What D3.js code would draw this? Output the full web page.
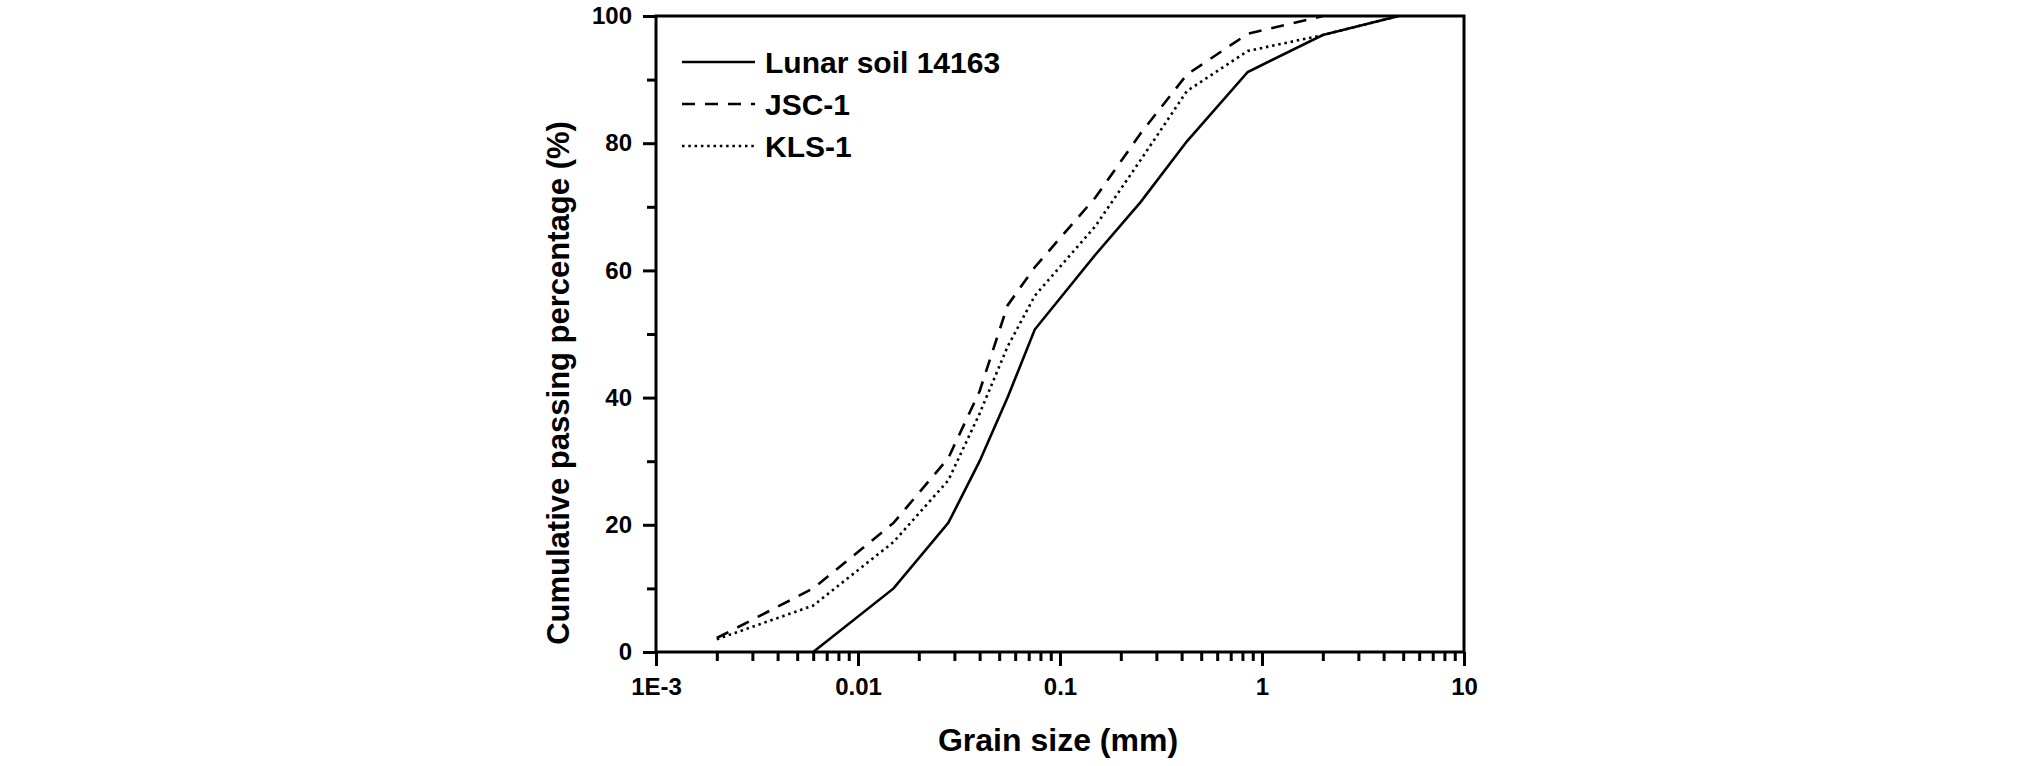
<!DOCTYPE html>
<html>
<head>
<meta charset="utf-8">
<script src="https://cdn.jsdelivr.net/npm/d3@7"></script>
<style>
  html, body { margin: 0; padding: 0; background: #fff; }
  svg { display: block; }
  text { font-family: "Liberation Sans", Arial, sans-serif; font-weight: bold; fill: #000; }
</style>
</head>
<body>
<svg id="chart" width="2020" height="766"></svg>
<script>
// ---- data ----
const seriesNames = ["Lunar soil 14163", "JSC-1", "KLS-1"];
const lunarSize = [0.006, 0.015, 0.028, 0.04, 0.055, 0.075, 0.15, 0.25, 0.425, 0.85, 2, 4.75];
const lunarPass = [0, 10, 20.3, 30, 40, 50.7, 62.5, 70.7, 80.3, 91.2, 97, 100];
const jscSize = [0.002, 0.006, 0.015, 0.028, 0.04, 0.055, 0.075, 0.15, 0.25, 0.425, 0.85, 2];
const jscPass = [2.2, 10, 20.3, 30.5, 41, 54.5, 60.5, 71.5, 81.5, 90.8, 97.2, 100];
const klsSize = [0.002, 0.006, 0.015, 0.028, 0.04, 0.055, 0.075, 0.15, 0.25, 0.425, 0.85, 2, 4.75];
const klsPass = [2, 7.3, 17.3, 27, 37.5, 48, 56, 67, 77.3, 88.2, 94.5, 97, 100];
const xTickValues = [0.001, 0.01, 0.1, 1, 10];
const xTickLabels = ["1E-3", "0.01", "0.1", "1", "10"];
const yTickValues = [0, 20, 40, 60, 80, 100];
const yMinorValues = [10, 30, 50, 70, 90];
const xTitle = "Grain size (mm)";
const yTitle = "Cumulative passing percentage (%)";

// ---- layout ----
const L = 656, R = 1464, T = 16, B = 652;
const svg = d3.select("#chart");

const x = d3.scaleLog().domain([0.001, 10]).range([L, R]);
const y = d3.scaleLinear().domain([0, 100]).range([B, T]);

const xMinor = [];
for (let d = 0.001; d < 10; d *= 10) for (let k = 2; k <= 9; k++) xMinor.push(+(d * k).toPrecision(3));

function styleAxis(g) {
  g.select(".domain").remove();
  g.selectAll(".tick line").attr("stroke", "#000").attr("stroke-width", 3);
  g.selectAll("text").style("font-size", "24px").style("font-family", '"Liberation Sans", Arial, sans-serif').style("font-weight", "bold");
}

// x minor
svg.append("g").attr("transform", `translate(0,${B})`)
  .call(d3.axisBottom(x).tickValues(xMinor).tickSize(9).tickFormat(""))
  .call(styleAxis);
// x major
svg.append("g").attr("transform", `translate(0,${B})`)
  .call(d3.axisBottom(x).tickValues(xTickValues).tickSize(14).tickPadding(12)
    .tickFormat((d, i) => xTickLabels[i]))
  .call(styleAxis);
// y minor
svg.append("g").attr("transform", `translate(${L},0)`)
  .call(d3.axisLeft(y).tickValues(yMinorValues).tickSize(9).tickFormat(""))
  .call(styleAxis);
// y major
svg.append("g").attr("transform", `translate(${L},0)`)
  .call(d3.axisLeft(y).tickValues(yTickValues).tickSize(13).tickPadding(11))
  .call(styleAxis);

// frame
svg.append("rect").attr("x", L).attr("y", T).attr("width", R - L).attr("height", B - T)
  .attr("fill", "none").attr("stroke", "#000").attr("stroke-width", 3);

// series
const series = [
  { name: seriesNames[0], xs: lunarSize, ys: lunarPass, dash: null },
  { name: seriesNames[1], xs: jscSize, ys: jscPass, dash: "13,10" },
  { name: seriesNames[2], xs: klsSize, ys: klsPass, dash: "2.5,3.8" }
];
const line = d3.line().x(d => x(d[0])).y(d => y(d[1]));
series.forEach(s => {
  svg.append("path")
    .datum(s.xs.map((v, i) => [v, s.ys[i]]))
    .attr("d", line)
    .attr("fill", "none")
    .attr("stroke", "#000")
    .attr("stroke-width", 2.6)
    .attr("stroke-dasharray", s.dash);
});

// legend
const legY = [62, 104, 146];
series.forEach((s, i) => {
  svg.append("line").attr("x1", 682).attr("x2", 755).attr("y1", legY[i]).attr("y2", legY[i])
    .attr("stroke", "#000").attr("stroke-width", 2.6).attr("stroke-dasharray", s.dash);
  svg.append("text").attr("x", 765).attr("y", legY[i] + 10.5)
    .style("font-size", "30px").text(s.name);
});

// titles
svg.append("text").attr("x", 1058).attr("y", 751).attr("text-anchor", "middle")
  .style("font-size", "32px").text(xTitle);
svg.append("text").attr("transform", `translate(569,383) rotate(-90)`)
  .attr("text-anchor", "middle").style("font-size", "31px").text(yTitle);
</script>
</body>
</html>
